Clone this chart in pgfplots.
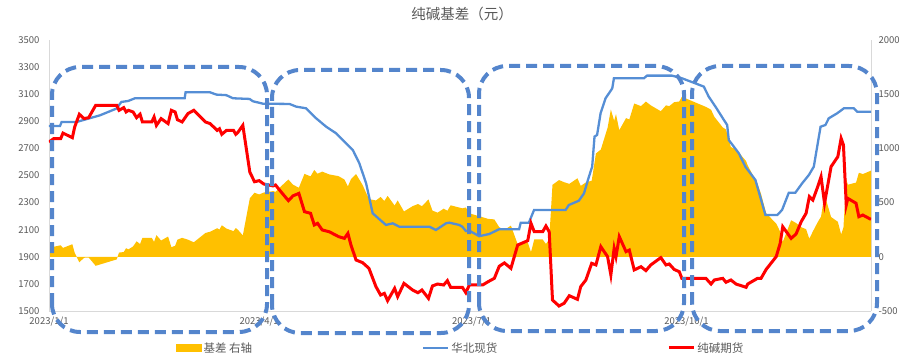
\documentclass[border=0pt]{standalone}
\usepackage{fontspec}
\setmainfont{Noto Sans CJK SC}
\usepackage{pgfplots}
\pgfplotsset{compat=1.18}
\usepackage{pgfplotstable}
\definecolor{gold}{RGB}{255,192,0}
\definecolor{spotblue}{RGB}{85,142,213}
\definecolor{boxblue}{RGB}{84,133,204}
\definecolor{txtgray}{RGB}{89,89,89}
\definecolor{axgray}{RGB}{217,217,217}

\pgfplotstableread{
day spot
0 2865
4.7 2865
5.4 2895
11.8 2895
21.8 2944
28.9 2994
31 3043
33.9 3050
36.8 3070
58.1 3070
58.5 3115
68.8 3115
71.7 3097
75.9 3093
78.8 3070
85.9 3065
87.3 3048
91.6 3030
103 3028
105.9 3008
110.1 2996
114.4 2922
118.7 2860
123 2811
127.2 2737
130.1 2688
132.9 2590
135.8 2442
138.6 2221
141.5 2177
144.3 2135
147.2 2147
150 2122
162.9 2122
165.7 2098
170 2147
171.4 2152
175.7 2135
177 2122
178.5 2090
180 2093
184.2 2052
188.5 2068
192.7 2103
201.3 2103
202 2152
205.5 2152
207.7 2245
221.2 2245
222.6 2282
226.9 2314
229.1 2368
231.2 2491
232.6 2565
233.6 2787
234.7 2799
236.2 2959
238.3 3069
241.2 3143
241.9 3217
254.7 3217
256.1 3237
266.8 3237
271.1 3217
276.8 3180
280.4 3156
282.5 3082
285.4 3008
289 2910
290.4 2873
291.1 2762
295.4 2664
298.2 2565
302.5 2467
306.8 2208
311.8 2208
313.9 2245
316.8 2373
319.6 2373
322.5 2442
325.4 2504
327.5 2565
330.4 2860
332.5 2873
333.9 2922
337.5 2959
340.4 2996
344.6 2996
346.1 2971
352 2971
}\spotdata

\pgfplotstableread{
day fut basis
0 2747 118
2 2772 93
5 2772 106
6 2813 82
10 2779 116
11 2858 37
13 2952 -51
15 2920 -9
17 2927 -7
20 3018 -83
29 3018 -24
30 2981 39
32 3001 44
33 2969 79
34 2981 69
36 2969 95
37.5 2927 143
39 2952 118
40 2895 175
44 2895 175
45 2932 138
46 2870 200
48 2920 150
51 2883 187
52.4 2981 89
54 2969 101
55 2912 158
57 2895 175
59.5 2957 158
62 2981 134
67 2895 220
69 2883 231
72 2833 264
73 2845 251
74 2804 291
76 2833 260
79 2833 237
80 2804 265
81 2821 247
83 2870 197
86 2525 540
88 2454 591
90 2462 575
92 2437 593
96 2423 606
97 2430 599
100 2366 663
102.5 2315 713
104.5 2350 665
107 2368 637
109.4 2233 765
112 2221 742
113.6 2135 801
115 2147 766
117 2098 786
120 2085 760
124 2049 744
126.5 2036 713
128 2073 650
129.3 1987 715
131.5 1876 763
134.3 1857 662
137 1815 532
140 1680 520
142 1618 552
143.6 1630 515
145 1576 562
148 1667 473
149.3 1606 520
152 1704 418
155.7 1655 467
158 1635 487
159.7 1655 467
162.5 1593 529
164.2 1685 426
166.4 1699 407
169 1692 444
170.6 1724 425
172 1675 475
177 1675 447
178.5 1635 455
180 1692 401
185.7 1692 365
188 1716 350
190.7 1741 345
192.8 1830 273
195 1855 248
197.8 1815 288
200.7 1987 116
205 2019 133
206.4 2147 43
207.8 2085 160
211.4 2085 160
212.8 2127 118
214.2 2085 160
215.6 1581 664
218.4 1537 708
220.6 1557 688
222.8 1613 673
226.3 1586 724
227.7 1680 654
229.9 1729 686
232.4 1852 702
234.2 1840 953
236.3 1975 989
239.2 1901 1191
240.6 1766 1359
242 1962 1255
242.8 1901 1316
244.2 2049 1168
247.1 1938 1279
248.5 1950 1267
250.6 1803 1414
253.5 1827 1390
255.6 1798 1432
257.7 1840 1397
262 1894 1343
264.2 1840 1397
265.6 1847 1390
267.7 1807 1426
269.9 1790 1433
271 1741 1476
281.3 1741 1383
283.5 1699 1357
284.9 1729 1292
288.5 1741 1194
289.9 1712 1174
292 1729 1012
294.2 1699 992
298.5 1675 883
299.2 1699 843
303.4 1741 672
304.9 1741 581
307.1 1807 401
311.4 1901 307
313.1 1999 232
314.2 2122 136
317.8 2036 337
319.9 2068 312
322.1 2159 273
324.2 2221 255
325.6 2344 166
327.1 2319 234
329.2 2418 320
330.6 2491 370
332.1 2295 575
334.9 2565 367
337.8 2639 323
339.2 2774 207
340.2 2725 270
341.4 2282 714
342.1 2331 665
345.6 2295 685
346.8 2196 775
348.5 2208 763
352 2176 795
}\futdata

\begin{document}
\begin{tikzpicture}[x=1pt,y=1pt]
\pgfplotsset{
  common/.style={
    scale only axis, width=822pt, height=271pt,
    xmin=0, xmax=352,
    at={(0pt,0pt)}, anchor=south west,
    major tick length=0pt,
    tick label style={font=\fontsize{9.5}{11}\selectfont, text=txtgray},
    /pgf/number format/assume math mode=true,
    /pgf/number format/1000 sep={},
    scaled y ticks=false,
    axis line style={axgray, line width=0.8pt},
  }
}
\begin{axis}[common,
  axis y line*=right, axis x line=none,
  ymin=-500, ymax=2000, ytick={-500,0,500,1000,1500,2000},
  yticklabel style={xshift=4pt}]
\addplot[fill=gold, draw=none] table[x=day,y=basis]{\futdata} \closedcycle;
\end{axis}
\begin{axis}[common,
  axis y line*=left, axis x line*=bottom,
  ymin=1500, ymax=3500, ytick={1500,1700,...,3500},
  xtick={0,90,181,273},
  xticklabels={2023/1/1,2023/4/1,2023/7/1,2023/10/1},
  xticklabel style={yshift=-2pt},
  yticklabel style={xshift=-6pt},
  legend columns=3,
  legend cell align=left,
  legend style={at={(0.1545,-0.1365)}, anchor=west, draw=none, fill=none,
    inner sep=0pt, font=\fontsize{11.5}{13}\selectfont, text=txtgray,
    /tikz/every even column/.append style={column sep=168pt}},
  ]
\addlegendimage{legend image code/.code={\fill[gold] (0pt,-3.5pt) rectangle (25pt,3.5pt);}}
\addlegendentry{基差\ 右轴}
\addplot[spotblue, line width=2.3pt, legend image code/.code={\draw[spotblue, line width=2.3pt] (0pt,0pt) -- (25pt,0pt);}] table[x=day,y=spot]{\spotdata};
\addlegendentry{华北现货}
\addplot[red, line width=3pt, legend image code/.code={\draw[red, line width=3pt] (0pt,0pt) -- (25pt,0pt);}] table[x=day,y=fut]{\futdata};
\addlegendentry{纯碱期货}
\end{axis}
\node[text=txtgray, font=\fontsize{14.5}{16}\selectfont] at (413,297.5) {纯碱基差（元）};
\begin{scope}[boxblue, line width=4pt, dash pattern=on 11pt off 6pt, rounded corners=28pt]
\draw (3,-21) rectangle (218,244);
\draw (223,-22) rectangle (420,241);
\draw (430,-20) rectangle (635,245);
\draw (643,-20) rectangle (828,245);
\end{scope}
\pgfresetboundingbox
\path[use as bounding box] (-49,-51) rectangle (868,311);
\end{tikzpicture}
\end{document}
